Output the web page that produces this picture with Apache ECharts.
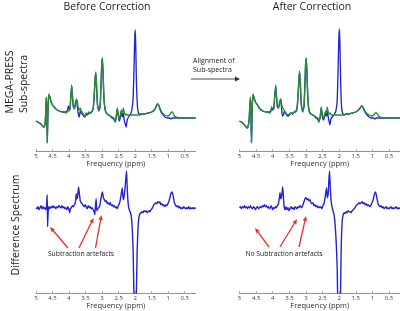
<!DOCTYPE html>
<html><head><meta charset="utf-8">
<script src="https://cdn.jsdelivr.net/npm/echarts@6/dist/echarts.min.js"></script>
<style>html,body{margin:0;padding:0;background:#fff}#c{width:400px;height:311px}</style>
</head><body><div id="c"></div>
<script>
// tick labels on the frequency axes (ppm)
const ppmTicks = [5, 4.5, 4, 3.5, 3, 2.5, 2, 1.5, 1, 0.5];

// Before correction, MEGA-PRESS sub-spectra [ppm, amplitude]
const beforeBlue = [[5.00,-3],[4.95,-4],[4.90,-5],[4.85,-6],[4.80,-8],[4.76,-9],[4.73,-7],[4.71,2],[4.69,20],[4.675,8],[4.66,-24],[4.645,-5],[4.63,15],[4.61,23],[4.58,21],[4.55,17],[4.50,13],[4.45,11],[4.40,9],[4.30,7],[4.20,6],[4.10,6],[4.05,8],[4.02,12],[4.00,8],[3.97,10],[3.94,24],[3.92,32],[3.90,23],[3.87,11],[3.84,10],[3.80,16],[3.77,19],[3.75,12],[3.72,4],[3.69,1],[3.66,7],[3.63,5],[3.60,4],[3.56,2],[3.52,1],[3.48,4],[3.44,3],[3.40,5],[3.35,5],[3.31,6],[3.27,9],[3.24,21],[3.21,39],[3.19,45],[3.17,34],[3.14,13],[3.10,7],[3.06,11],[3.03,34],[3.01,54],[2.99,59],[2.97,44],[2.94,17],[2.90,7],[2.85,4],[2.80,3],[2.75,2],[2.70,0],[2.65,-1],[2.60,-4],[2.57,1],[2.54,9],[2.51,2],[2.48,-3],[2.45,0],[2.42,6],[2.39,1],[2.36,5],[2.33,-2],[2.30,-6],[2.27,-9],[2.24,-2],[2.20,1],[2.15,3],[2.10,8],[2.06,20],[2.03,55],[2.01,82],[1.995,88],[1.98,70],[1.96,35],[1.93,12],[1.90,5],[1.85,4],[1.80,4],[1.70,4],[1.60,5],[1.50,6],[1.42,8],[1.37,11],[1.33,14],[1.29,13],[1.24,8],[1.18,4],[1.10,1],[1.02,0],[0.96,0],[0.92,-1],[0.88,0],[0.85,0],[0.81,0],[0.76,0],[0.70,0],[0.60,0],[0.50,0],[0.40,0],[0.30,0],[0.17,0]];
const beforeGreen = [[5.00,-3],[4.95,-4],[4.90,-5],[4.85,-6],[4.80,-8],[4.76,-9],[4.73,-7],[4.71,2],[4.69,21],[4.675,8],[4.66,-25],[4.645,-5],[4.63,15],[4.61,24],[4.58,21],[4.55,17],[4.50,13],[4.45,11],[4.40,9],[4.30,7],[4.20,6],[4.10,5],[4.05,6],[4.02,9],[4.00,7],[3.97,9],[3.94,25],[3.92,33],[3.90,24],[3.87,12],[3.84,9],[3.80,13],[3.77,18],[3.75,16],[3.72,10],[3.69,8],[3.66,10],[3.63,7],[3.60,6],[3.56,3],[3.52,2],[3.48,5],[3.44,4],[3.40,6],[3.35,5],[3.31,7],[3.27,10],[3.24,22],[3.21,40],[3.19,46],[3.17,35],[3.14,14],[3.10,8],[3.06,12],[3.03,35],[3.01,55],[2.99,60],[2.97,45],[2.94,18],[2.90,8],[2.85,4],[2.80,3],[2.75,2],[2.70,1],[2.65,0],[2.60,-3],[2.57,2],[2.54,10],[2.51,4],[2.48,-1],[2.45,2],[2.42,8],[2.39,4],[2.36,10],[2.33,6],[2.30,3],[2.27,4],[2.24,3],[2.20,3],[2.15,3],[2.10,3],[2.05,3],[2.00,3],[1.95,3],[1.90,3],[1.85,3],[1.80,4],[1.70,4],[1.60,5],[1.50,6],[1.42,8],[1.37,11],[1.33,14],[1.29,13],[1.24,9],[1.18,5],[1.10,3],[1.02,2],[0.96,3],[0.92,5],[0.88,6],[0.85,5],[0.81,2],[0.76,1],[0.70,0],[0.60,0],[0.50,0],[0.40,0],[0.30,0],[0.17,0]];

// After correction, MEGA-PRESS sub-spectra
const afterBlue = [[5.00,-3],[4.95,-4],[4.90,-5],[4.85,-7],[4.80,-9],[4.77,-10],[4.74,-8],[4.71,-2],[4.69,12],[4.67,20],[4.655,5],[4.64,-24],[4.625,-3],[4.61,16],[4.59,23],[4.56,20],[4.52,16],[4.48,14],[4.44,12],[4.38,9],[4.30,7],[4.20,6],[4.10,6],[4.06,7],[4.03,11],[4.00,8],[3.97,9],[3.94,22],[3.91,32],[3.89,23],[3.86,11],[3.83,10],[3.79,16],[3.76,19],[3.74,12],[3.71,2],[3.68,3],[3.65,7],[3.62,5],[3.58,3],[3.54,2],[3.50,3],[3.45,5],[3.40,4],[3.35,6],[3.31,6],[3.27,9],[3.24,21],[3.21,39],[3.19,46],[3.17,34],[3.14,13],[3.10,6],[3.06,11],[3.03,34],[3.01,54],[2.99,59],[2.97,44],[2.94,17],[2.90,6],[2.85,4],[2.80,3],[2.75,2],[2.70,0],[2.65,-1],[2.61,-4],[2.57,1],[2.54,10],[2.51,2],[2.47,-2],[2.44,1],[2.41,5],[2.38,2],[2.36,8],[2.33,1],[2.30,-4],[2.28,-7],[2.25,-1],[2.21,1],[2.16,3],[2.10,7],[2.06,18],[2.03,52],[2.01,80],[1.99,89],[1.975,70],[1.955,35],[1.93,12],[1.90,5],[1.85,3],[1.80,4],[1.70,4],[1.60,5],[1.50,6],[1.42,8],[1.37,10],[1.33,12],[1.29,11],[1.24,7],[1.18,4],[1.10,1],[1.04,0],[0.96,0],[0.92,-1],[0.88,0],[0.85,0],[0.81,0],[0.76,0],[0.70,0],[0.60,0],[0.50,0],[0.40,0],[0.30,0],[0.17,0]];
const afterGreen = [[5.00,-3],[4.95,-4],[4.90,-5],[4.85,-7],[4.80,-9],[4.77,-10],[4.74,-8],[4.71,-2],[4.69,12],[4.67,21],[4.655,5],[4.64,-25],[4.625,-3],[4.61,16],[4.59,24],[4.56,20],[4.52,16],[4.48,14],[4.44,12],[4.38,9],[4.30,7],[4.20,6],[4.10,5],[4.06,6],[4.03,10],[4.00,8],[3.97,9],[3.94,22],[3.91,33],[3.89,24],[3.86,12],[3.83,10],[3.79,14],[3.76,19],[3.74,15],[3.71,11],[3.68,9],[3.65,8],[3.62,6],[3.58,4],[3.54,3],[3.50,4],[3.45,5],[3.40,5],[3.35,6],[3.31,7],[3.27,10],[3.24,22],[3.21,40],[3.19,47],[3.17,35],[3.14,14],[3.10,7],[3.06,12],[3.03,35],[3.01,55],[2.99,60],[2.97,45],[2.94,18],[2.90,7],[2.85,4],[2.80,3],[2.75,2],[2.70,1],[2.65,0],[2.61,-3],[2.57,2],[2.54,11],[2.51,4],[2.47,0],[2.44,3],[2.41,7],[2.38,5],[2.36,11],[2.33,6],[2.30,4],[2.27,5],[2.24,3],[2.20,3],[2.15,3],[2.10,3],[2.05,3],[2.00,3],[1.95,3],[1.90,3],[1.85,3],[1.80,4],[1.70,4],[1.60,5],[1.50,6],[1.42,8],[1.37,10],[1.33,12],[1.29,11],[1.24,8],[1.18,5],[1.10,3],[1.02,2],[0.96,3],[0.92,5],[0.88,5],[0.85,4],[0.81,2],[0.76,1],[0.70,0],[0.60,0],[0.50,0],[0.40,0],[0.30,0],[0.17,0]];

// Difference spectra
const beforeDiff = [[5.00,0],[4.97,-1],[4.94,1],[4.91,-2],[4.88,0],[4.85,2],[4.82,-1],[4.79,1],[4.76,-1],[4.73,0],[4.70,-2],[4.68,2],[4.66,13],[4.65,-19],[4.63,-3],[4.61,1],[4.58,-1],[4.55,1],[4.52,0],[4.49,2],[4.46,0],[4.43,1],[4.40,-1],[4.37,1],[4.34,0],[4.31,2],[4.28,1],[4.25,0],[4.22,2],[4.19,0],[4.16,1],[4.13,-1],[4.10,0],[4.07,-2],[4.04,1],[4.01,-1],[3.98,-5],[3.96,-1],[3.93,0],[3.90,2],[3.87,1],[3.84,3],[3.81,5],[3.78,14],[3.76,9],[3.74,12],[3.71,21],[3.69,15],[3.66,7],[3.63,5],[3.60,4],[3.57,2],[3.54,1],[3.51,3],[3.48,1],[3.45,-1],[3.42,2],[3.39,0],[3.36,1],[3.33,-1],[3.30,0],[3.27,-2],[3.24,-4],[3.22,-7],[3.20,2],[3.18,9],[3.16,-3],[3.13,-1],[3.10,0],[3.07,2],[3.05,6],[3.02,12],[2.99,16],[2.96,10],[2.93,8],[2.90,6],[2.87,7],[2.84,4],[2.81,5],[2.78,3],[2.75,5],[2.72,2],[2.69,3],[2.66,1],[2.63,2],[2.60,0],[2.57,1],[2.54,-1],[2.51,2],[2.48,4],[2.45,8],[2.42,14],[2.39,20],[2.36,8],[2.33,12],[2.30,22],[2.28,30],[2.26,37],[2.24,20],[2.21,4],[2.18,-2],[2.15,-4],[2.12,-8],[2.09,-19],[2.06,-45],[2.03,-100],[2.00,-130],[1.97,-100],[1.94,-45],[1.91,-19],[1.88,-9],[1.85,-6],[1.82,-5],[1.79,-4],[1.76,-5],[1.73,-3],[1.70,-4],[1.67,-3],[1.64,-5],[1.61,-4],[1.58,-3],[1.55,-4],[1.52,-2],[1.49,-1],[1.46,1],[1.43,3],[1.40,4],[1.37,5],[1.34,4],[1.31,6],[1.28,5],[1.25,6],[1.22,3],[1.19,4],[1.16,2],[1.13,3],[1.10,1],[1.07,3],[1.04,2],[1.01,4],[0.98,6],[0.95,10],[0.92,14],[0.89,16],[0.86,14],[0.83,8],[0.80,4],[0.77,2],[0.74,1],[0.71,2],[0.68,0],[0.65,1],[0.62,-1],[0.59,0],[0.56,-1],[0.53,1],[0.50,0],[0.47,-1],[0.44,0],[0.41,-1],[0.38,1],[0.35,-1],[0.32,0],[0.29,-1],[0.26,0],[0.23,-1],[0.20,0],[0.17,-1]];
const afterDiff = [[5.00,0],[4.97,1],[4.94,-1],[4.91,1],[4.88,0],[4.85,2],[4.82,0],[4.79,1],[4.76,-1],[4.73,1],[4.70,0],[4.67,2],[4.64,0],[4.61,-1],[4.58,1],[4.55,0],[4.52,-2],[4.49,0],[4.46,1],[4.43,-1],[4.40,0],[4.37,1],[4.34,0],[4.31,2],[4.28,1],[4.25,3],[4.22,1],[4.19,2],[4.16,0],[4.13,1],[4.10,-1],[4.07,0],[4.04,2],[4.01,-2],[3.98,0],[3.95,-1],[3.92,1],[3.89,0],[3.86,2],[3.83,4],[3.80,10],[3.78,15],[3.76,9],[3.73,12],[3.70,21],[3.68,12],[3.66,2],[3.63,-2],[3.60,1],[3.57,-2],[3.54,0],[3.51,-3],[3.48,-1],[3.45,1],[3.42,-1],[3.39,0],[3.36,-2],[3.33,1],[3.30,0],[3.27,-1],[3.24,1],[3.21,0],[3.18,2],[3.15,1],[3.12,0],[3.09,3],[3.06,6],[3.03,9],[3.00,10],[2.97,8],[2.94,9],[2.91,7],[2.88,8],[2.85,5],[2.82,4],[2.79,5],[2.76,2],[2.73,3],[2.70,1],[2.67,2],[2.64,0],[2.61,1],[2.58,0],[2.55,1],[2.52,-1],[2.49,2],[2.46,4],[2.43,9],[2.40,16],[2.38,20],[2.36,10],[2.33,14],[2.31,28],[2.29,37],[2.27,22],[2.24,6],[2.21,0],[2.18,-4],[2.15,-8],[2.12,-18],[2.09,-35],[2.06,-60],[2.03,-120],[2.00,-130],[1.97,-110],[1.94,-40],[1.91,-14],[1.88,-7],[1.85,-5],[1.82,-6],[1.79,-4],[1.76,-5],[1.73,-3],[1.70,-4],[1.67,-4],[1.64,-5],[1.61,-3],[1.58,-2],[1.55,-1],[1.52,0],[1.49,2],[1.46,3],[1.43,4],[1.40,5],[1.37,4],[1.34,5],[1.31,6],[1.28,4],[1.25,5],[1.22,3],[1.19,4],[1.16,2],[1.13,3],[1.10,2],[1.07,1],[1.04,3],[1.01,5],[0.98,8],[0.95,12],[0.92,16],[0.89,14],[0.86,9],[0.83,4],[0.80,2],[0.77,1],[0.74,2],[0.71,0],[0.68,1],[0.65,-1],[0.62,0],[0.59,1],[0.56,-1],[0.53,0],[0.50,-1],[0.47,0],[0.44,1],[0.41,-1],[0.38,0],[0.35,-1],[0.32,0],[0.29,1],[0.26,-1],[0.23,0],[0.20,-1],[0.17,0]];

const BLUE = '#2323d2', GREEN = '#2b8a34', RED = '#e5312b';
const FONT = 'Open Sans';

function xAx(gi) {
  return {
    gridIndex: gi, type: 'value', inverse: true, min: 0.17, max: 5,
    name: 'Frequency (ppm)', nameLocation: 'middle', nameGap: 7,
    nameTextStyle: { fontFamily: FONT, fontSize: 7.5, color: '#333' },
    axisLine: { onZero: false, lineStyle: { color: '#777', width: 0.8 } },
    axisTick: { inside: true, length: 2, customValues: ppmTicks, lineStyle: { color: '#777', width: 0.6 } },
    axisLabel: { customValues: ppmTicks, margin: 2, fontSize: 6, fontFamily: FONT, color: '#444' },
    splitLine: { show: false }
  };
}
function yAx(gi, mn, mx) {
  return { gridIndex: gi, type: 'value', min: mn, max: mx, show: false, splitLine: { show: false } };
}
function ln(name, data, gi, color, w) {
  return { name, type: 'line', xAxisIndex: gi, yAxisIndex: gi, data, showSymbol: false, symbol: 'none',
    smooth: 0.15, clip: true, lineStyle: { color, width: w }, silent: true, animation: false };
}
function arrow(x1, y1, x2, y2, color, w, hl, hw) {
  const dx = x2 - x1, dy = y2 - y1, L = Math.hypot(dx, dy), ux = dx / L, uy = dy / L;
  const bx = x2 - ux * hl, by = y2 - uy * hl;
  return [
    { type: 'line', shape: { x1, y1, x2: bx, y2: by }, style: { stroke: color, lineWidth: w } },
    { type: 'polygon', shape: { points: [[x2, y2], [bx - uy * hw, by + ux * hw], [bx + uy * hw, by - ux * hw]] }, style: { fill: color } }
  ];
}
function txt(x, y, text, size, rot) {
  return { type: 'text', x, y, rotation: rot || 0,
    style: { text, fontFamily: FONT, fontSize: size, fill: '#222', align: 'center', verticalAlign: 'middle' } };
}

const chart = echarts.init(document.getElementById('c'), null, { renderer: 'canvas' });
const graphic = [
  txt(107, 7, 'Before Correction', 10.5),
  txt(312, 7, 'After Correction', 10.5),
  txt(10, 82, 'MEGA-PRESS', 10.5, Math.PI / 2),
  txt(24, 84, 'Sub-spectra', 10.5, Math.PI / 2),
  txt(16, 225, 'Difference Spectrum', 10.5, Math.PI / 2),
  { type: 'text', x: 193, y: 61, style: { text: 'Alignment of', fontFamily: FONT, fontSize: 7, fill: '#222', align: 'left', verticalAlign: 'middle' } },
  { type: 'text', x: 193, y: 70, style: { text: 'Sub-spectra', fontFamily: FONT, fontSize: 7, fill: '#222', align: 'left', verticalAlign: 'middle' } },
  ...arrow(191, 79, 240, 79, '#333', 0.9, 5, 2.5),
  txt(81, 254, 'Subtraction artefacts', 6.8),
  txt(284, 254, 'No Subtraction artefacts', 6.8),
  ...arrow(68, 248, 50, 227, RED, 1.3, 5, 2.2),
  ...arrow(79, 248, 93.5, 218, RED, 1.3, 5, 2.2),
  ...arrow(95.5, 248, 101.5, 215, RED, 1.3, 5, 2.2),
  ...arrow(269, 247, 255, 228, RED, 1.3, 5, 2.2),
  ...arrow(280, 247, 297, 219, RED, 1.3, 5, 2.2),
  ...arrow(299, 247, 306, 216, RED, 1.3, 5, 2.2)
];

chart.setOption({
  animation: false,
  backgroundColor: '#fff',
  grid: [
    { left: 36, top: 28, width: 159.6, height: 123 },
    { left: 239.5, top: 28, width: 161.5, height: 123 },
    { left: 36, top: 168, width: 159.6, height: 126 },
    { left: 239.5, top: 168, width: 161.5, height: 126 }
  ],
  xAxis: [xAx(0), xAx(1), xAx(2), xAx(3)],
  yAxis: [yAx(0, -33, 90), yAx(1, -33, 90), yAx(2, -86, 40), yAx(3, -86, 40)],
  series: [
    ln('before blue', beforeBlue, 0, BLUE, 1.35),
    ln('before green', beforeGreen, 0, GREEN, 1.35),
    ln('after blue', afterBlue, 1, BLUE, 1.35),
    ln('after green', afterGreen, 1, GREEN, 1.35),
    ln('before diff', beforeDiff, 2, BLUE, 1.4),
    ln('after diff', afterDiff, 3, BLUE, 1.4)
  ],
  graphic
});
</script></body></html>
